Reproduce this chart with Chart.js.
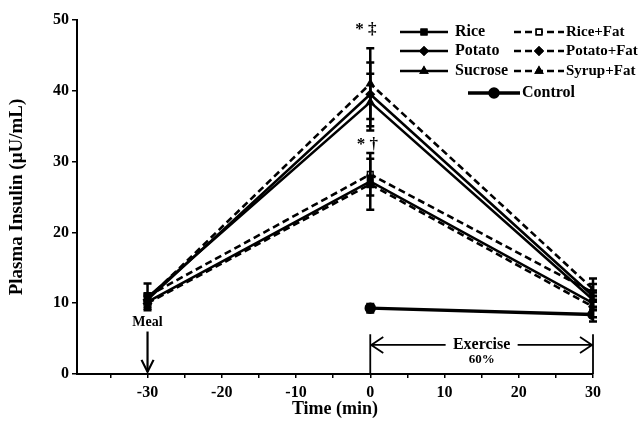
<!DOCTYPE html>
<html>
<head>
<meta charset="utf-8">
<script src="https://cdn.jsdelivr.net/npm/chart.js@4/dist/chart.umd.min.js"></script>
<style>
  html, body { margin: 0; padding: 0; background: #fff; }
  #wrap { width: 643px; height: 421px; }
</style>
</head>
<body>
<div id="wrap"><canvas id="c" width="643" height="421"></canvas></div>
<script>
// ---- data ----
const times = [-30, 0, 30];
const rice      = [10.2, 27.2, 10.0];
const potato    = [10.5, 39.5, 11.0];
const sucrose   = [10.8, 38.4, 10.5];
const riceFat   = [11.0, 28.2, 11.5];
const potatoFat = [10.0, 26.8, 9.5];
const syrupFat  = [10.6, 41.0, 12.0];
const controlTimes = [0, 30];
const control   = [9.3, 8.4];

const riceErr      = [0.7, 0.8, 1.0];
const potatoErr    = [0.6, 4.5, 0.8];
const sucroseErr   = [0.5, 4.0, 1.0];
const riceFatErr   = [1.8, 3.0, 1.2];
const potatoFatErr = [1.0, 3.6, 1.5];
const syrupFatErr  = [0.8, 5.0, 1.5];
const controlErr   = [0.6, 1.0];

const xTicks = [-35, -30, -25, -20, -15, -10, -5, 0, 5, 10, 15, 20, 25, 30];
const xLabelled = [-30, -20, -10, 0, 10, 20, 30];
const yTicks = [0, 10, 20, 30, 40, 50];

const FONT = "'Liberation Serif', 'Times New Roman', serif";

function pts(xs, ys) { return xs.map((x, i) => ({ x: x, y: ys[i] })); }

function mk(label, xs, ys, err, style, dashed, open, extra) {
  return Object.assign({
    label: label,
    data: pts(xs, ys),
    errors: err,
    borderColor: '#000',
    backgroundColor: open ? '#fff' : '#000',
    pointBorderColor: '#000',
    pointBackgroundColor: open ? '#fff' : '#000',
    borderWidth: 2.6,
    pointBorderWidth: 1.5,
    borderDash: dashed ? [7, 4] : [],
    pointStyle: style,
    pointRadius: 4,
    tension: 0,
    fill: false
  }, extra || {});
}

const datasets = [
  mk('Rice', times, rice, riceErr, 'rect', false, false),
  mk('Potato', times, potato, potatoErr, 'rectRot', false, false),
  mk('Sucrose', times, sucrose, sucroseErr, 'triangle', false, false),
  mk('Rice+Fat', times, riceFat, riceFatErr, 'rect', true, true),
  mk('Potato+Fat', times, potatoFat, potatoFatErr, 'rectRot', true, false),
  mk('Syrup+Fat', times, syrupFat, syrupFatErr, 'triangle', true, false),
  mk('Control', controlTimes, control, controlErr, 'circle', false, false, { borderWidth: 3.4, pointRadius: 5 })
];

// error bars
const errorBars = {
  id: 'errorBars',
  afterDatasetsDraw(chart) {
    const ctx = chart.ctx, y = chart.scales.y;
    ctx.save();
    ctx.strokeStyle = '#000';
    ctx.lineWidth = 2.5;
    chart.data.datasets.forEach((ds, di) => {
      const meta = chart.getDatasetMeta(di);
      meta.data.forEach((pt, i) => {
        const v = ds.data[i].y, e = ds.errors[i];
        const yt = y.getPixelForValue(v + e), yb = y.getPixelForValue(v - e);
        ctx.beginPath();
        ctx.moveTo(pt.x, yt); ctx.lineTo(pt.x, yb);
        ctx.moveTo(pt.x - 4, yt); ctx.lineTo(pt.x + 4, yt);
        ctx.moveTo(pt.x - 4, yb); ctx.lineTo(pt.x + 4, yb);
        ctx.stroke();
      });
    });
    ctx.restore();
  }
};

// annotations + legend
const extras = {
  id: 'extras',
  afterDraw(chart) {
    const ctx = chart.ctx, x = chart.scales.x, y = chart.scales.y;
    ctx.save();
    ctx.fillStyle = '#000';
    ctx.strokeStyle = '#000';
    ctx.textBaseline = 'middle';
    ctx.textAlign = 'center';

    // significance marks
    ctx.font = 'bold 17px ' + FONT;
    ctx.fillText('* \u2021', x.getPixelForValue(-0.6), y.getPixelForValue(48.6));
    ctx.fillText('* \u2020', x.getPixelForValue(-0.4), y.getPixelForValue(32.4));

    // Meal arrow
    const mx = x.getPixelForValue(-30);
    ctx.font = 'bold 14px ' + FONT;
    ctx.fillText('Meal', mx, y.getPixelForValue(7.3));
    ctx.lineWidth = 2.2;
    ctx.beginPath();
    ctx.moveTo(mx, y.getPixelForValue(6.0)); ctx.lineTo(mx, y.getPixelForValue(0.3));
    ctx.stroke();
    const ab = y.getPixelForValue(0.3);
    ctx.beginPath();
    ctx.moveTo(mx - 6, ab - 12); ctx.lineTo(mx, ab); ctx.lineTo(mx + 6, ab - 12);
    ctx.stroke();

    // Exercise bracket
    const x0 = x.getPixelForValue(0), x1 = x.getPixelForValue(30);
    const xc = (x0 + x1) / 2;
    const ya = y.getPixelForValue(4.1);
    ctx.lineWidth = 1.8;
    ctx.beginPath();
    ctx.moveTo(x0, y.getPixelForValue(5.6)); ctx.lineTo(x0, y.getPixelForValue(0));
    ctx.moveTo(x1, y.getPixelForValue(5.6)); ctx.lineTo(x1, y.getPixelForValue(0));
    ctx.moveTo(x0, ya); ctx.lineTo(xc - 36, ya);
    ctx.moveTo(xc + 36, ya); ctx.lineTo(x1, ya);
    ctx.moveTo(x0 + 13, ya - 8); ctx.lineTo(x0 + 1, ya); ctx.lineTo(x0 + 13, ya + 8);
    ctx.moveTo(x1 - 13, ya - 8); ctx.lineTo(x1 - 1, ya); ctx.lineTo(x1 - 13, ya + 8);
    ctx.stroke();
    ctx.font = 'bold 16px ' + FONT;
    ctx.fillText('Exercise', xc, ya);
    ctx.font = 'bold 13px ' + FONT;
    ctx.fillText('60%', xc, y.getPixelForValue(2.0));

    // legend
    const ds = chart.data.datasets;
    const rows = [
      [0, 400, 32, 455], [1, 400, 51, 455], [2, 400, 71, 455],
      [3, 514, 32, 566], [4, 514, 51, 566], [5, 514, 71, 566]
    ];
    ctx.textAlign = 'left';
    rows.forEach(r => {
      const d = ds[r[0]];
      const lx = r[1], ly = r[2], tx = r[3];
      const w = d.borderDash.length ? 50 : 48;
      ctx.lineWidth = 2.6;
      ctx.setLineDash(d.borderDash);
      ctx.beginPath(); ctx.moveTo(lx, ly); ctx.lineTo(lx + w, ly); ctx.stroke();
      ctx.setLineDash([]);
      ctx.lineWidth = 1.5;
      ctx.fillStyle = d.pointBackgroundColor;
      Chart.helpers.drawPoint(ctx, { pointStyle: d.pointStyle, radius: 4, borderWidth: 1.5, rotation: 0 }, lx + w / 2, ly);
      ctx.fill();
      ctx.stroke();
      ctx.fillStyle = '#000';
      ctx.font = (r[0] < 3 ? 'bold 16px ' : 'bold 15px ') + FONT;
      ctx.fillText(d.label, tx, ly);
    });
    // control row
    const c = ds[6];
    ctx.lineWidth = 3.4;
    ctx.beginPath(); ctx.moveTo(468, 93); ctx.lineTo(520, 93); ctx.stroke();
    ctx.lineWidth = 1.5;
    Chart.helpers.drawPoint(ctx, { pointStyle: 'circle', radius: 5, borderWidth: 1.5, rotation: 0 }, 494, 93);
    ctx.fillStyle = '#000';
    ctx.fill();
    ctx.font = 'bold 16px ' + FONT;
    ctx.fillText(c.label, 522, 93);
    ctx.restore();
  }
};

new Chart(document.getElementById('c'), {
  type: 'line',
  data: { datasets: datasets },
  plugins: [errorBars, extras],
  options: {
    responsive: false,
    animation: false,
    devicePixelRatio: 1,
    layout: { padding: { left: 6, right: 50, top: 20, bottom: 1 } },
    plugins: { legend: { display: false }, tooltip: { enabled: false } },
    scales: {
      x: {
        type: 'linear',
        min: -39.5, max: 30,
        afterBuildTicks(s) { s.ticks = xTicks.map(v => ({ value: v })); },
        afterFit(s) { s.height = 46; },
        ticks: {
          autoSkip: false,
          maxRotation: 0,
          color: '#000',
          padding: 5,
          font: { family: FONT, size: 16, weight: 'bold' },
          callback: v => xLabelled.includes(v) ? String(v) : ''
        },
        grid: { drawOnChartArea: false, drawTicks: true, tickLength: 4, color: '#000', lineWidth: 1.5 },
        border: { display: true, color: '#000', width: 2 },
        title: {
          display: true, text: 'Time (min)', color: '#000',
          font: { family: FONT, size: 18, weight: 'bold' }, padding: { top: 0, bottom: 0 }
        }
      },
      y: {
        type: 'linear',
        min: 0, max: 50,
        afterBuildTicks(s) { s.ticks = yTicks.map(v => ({ value: v })); },
        afterFit(s) { s.width = 71; },
        ticks: {
          color: '#000',
          padding: 3,
          font: { family: FONT, size: 16, weight: 'bold' }
        },
        grid: { drawOnChartArea: false, drawTicks: true, tickLength: 5, color: '#000', lineWidth: 1.5 },
        border: { display: true, color: '#000', width: 2 },
        title: {
          display: true, text: 'Plasma Insulin (\u03bcU/mL)', color: '#000',
          font: { family: FONT, size: 19, weight: 'bold' }, padding: { top: 0, bottom: 4 }
        }
      }
    }
  }
});
</script>
</body>
</html>
